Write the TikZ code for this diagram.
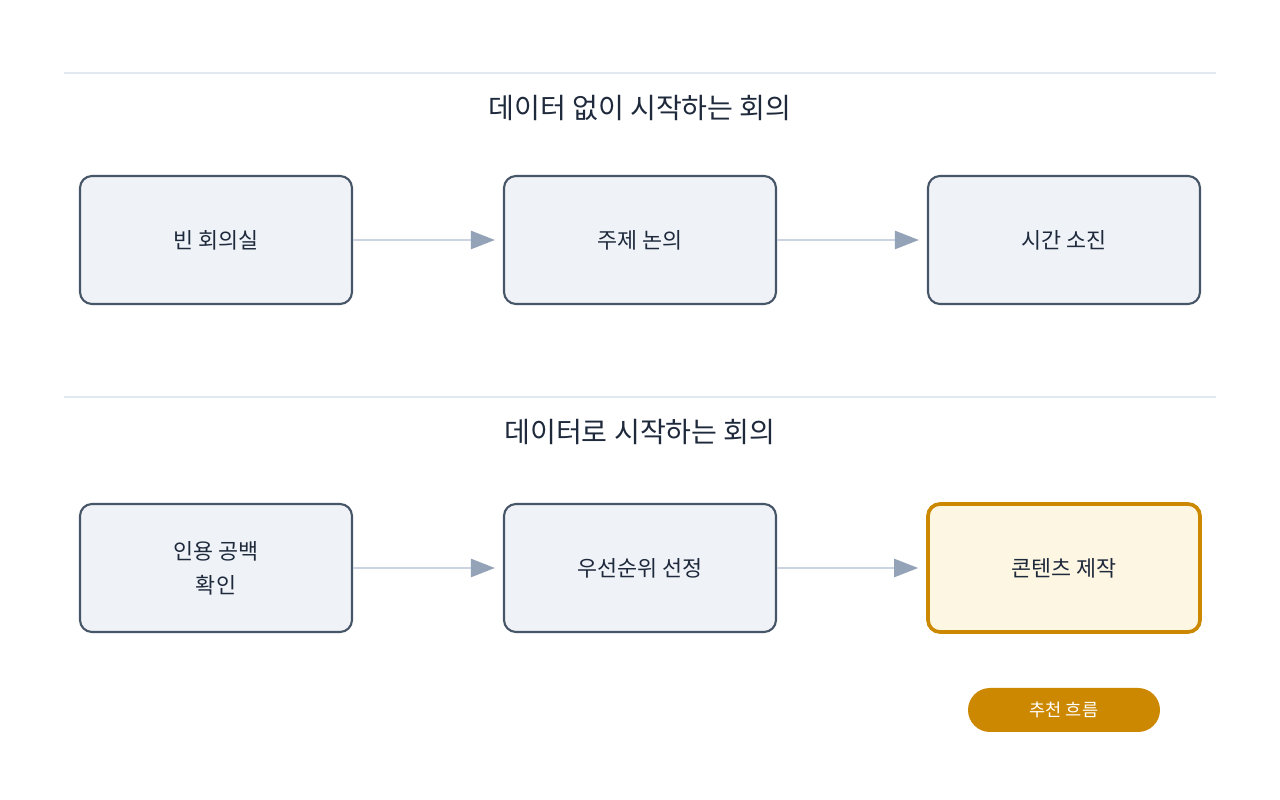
\documentclass[tikz,border=0pt]{standalone}
\usepackage{fontspec}
\setmainfont{Noto Sans CJK KR}
\usetikzlibrary{arrows.meta, positioning}
\definecolor{boxfill}{HTML}{EFF3F8}
\definecolor{boxdraw}{HTML}{475569}
\definecolor{linecol}{HTML}{CBD5E1}
\definecolor{headcol}{HTML}{94A3B8}
\definecolor{goldcol}{HTML}{CC8800}
\definecolor{goldfill}{HTML}{FDF6E3}
\definecolor{rulecol}{HTML}{E2E8F0}
\definecolor{textcol}{HTML}{1E293B}
\tikzset{
  stage/.style={draw=boxdraw, line width=1.5pt, fill=boxfill, rounded corners=0.3cm,
    minimum width=6.8cm, minimum height=3.2cm, align=center, font=\fontsize{15.5}{24}\selectfont, text=textcol},
  goal/.style={stage, draw=goldcol, line width=2.6pt, fill=goldfill},
  flow/.style={linecol, line width=1.8pt, shorten >=0.2cm, -{Triangle[color=headcol, length=0.6cm, width=0.45cm]}},
  title/.style={font=\fontsize{20}{24}\selectfont, text=textcol}
}
\begin{document}
\begin{tikzpicture}
\useasboundingbox (0,0) rectangle (32,20);
% top section
\draw[rulecol, line width=0.8pt] (1.6,18.175) -- (30.4,18.175);
\node[title] (titleA) at (16,17.3) {데이터 없이 시작하는 회의};
\node[stage] (a1) at (5.4,14) {빈 회의실};
\node[stage] (a2) at (16,14) {주제 논의};
\node[stage] (a3) at (26.6,14) {시간 소진};
\draw[flow] (a1) -- (a2);
\draw[flow] (a2) -- (a3);

% bottom section
\draw[rulecol, line width=0.8pt] (1.6,10.075) -- (30.4,10.075);
\node[title] (titleB) at (16,9.2) {데이터로 시작하는 회의};
\node[stage] (b1) at (5.4,5.8) {인용 공백\\확인};
\node[stage] (b2) at (16,5.8) {우선순위 선정};
\node[goal] (b3) at (26.6,5.8) {콘텐츠 제작};
\draw[flow] (b1) -- (b2);
\draw[flow] (b2) -- (b3);

\node[fill=goldcol, rounded corners=0.55cm, minimum width=4.8cm, minimum height=1.1cm,
  text=white, font=\fontsize{12.5}{15}\selectfont] (tag) at (26.6,2.25) {추천 흐름};
\end{tikzpicture}
\end{document}
